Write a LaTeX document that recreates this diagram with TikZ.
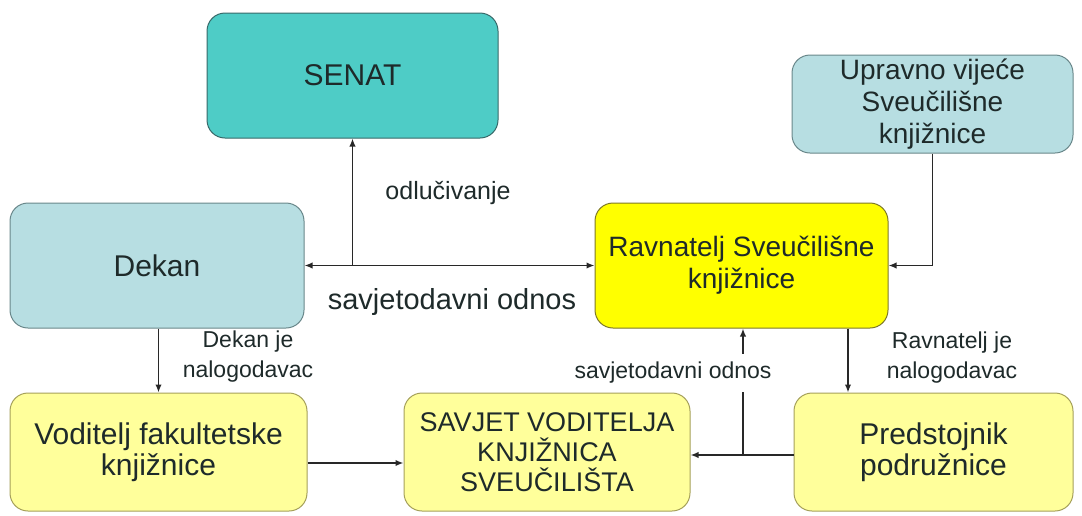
\documentclass[tikz,border=0pt]{standalone}
\usepackage{fontspec}
\setmainfont{Liberation Sans}
\usetikzlibrary{arrows.meta, positioning, calc}

\definecolor{senatfill}{RGB}{78,204,198}
\definecolor{senatline}{RGB}{55,105,105}
\definecolor{bluefill}{RGB}{183,222,226}
\definecolor{blueline}{RGB}{105,135,138}
\definecolor{yellowfill}{RGB}{255,255,0}
\definecolor{yellowline}{RGB}{125,120,40}
\definecolor{palefill}{RGB}{255,255,155}
\definecolor{paleline}{RGB}{165,160,90}
\definecolor{textdark}{RGB}{30,42,42}
\definecolor{linedark}{RGB}{40,40,40}

\begin{document}
\begin{tikzpicture}[x=1pt,y=-1pt,->,>={Latex[length=8pt,width=6.5pt]},
      line width=1.8pt, draw=linedark,
      box/.style={rectangle, rounded corners=18pt, draw, line width=1pt,
         align=center, inner sep=0pt, text=textdark},
      lbl/.style={align=center, inner sep=1pt, text=textdark}]
   \useasboundingbox (0,0) rectangle (1082,515);

   % upper row
   \node [box, fill=senatfill, draw=senatline, minimum width=291pt, minimum height=125pt,
      font=\fontsize{30}{32}\selectfont] at (352.5,75.5) (senat) {SENAT};
   \node [box, fill=bluefill, draw=blueline, minimum width=281pt, minimum height=98pt,
      font=\fontsize{28}{32}\selectfont] at (932.5,104) (upravno) {Upravno vijeće\\Sveučilišne\\knjižnice};

   % middle row
   \node [box, fill=bluefill, draw=blueline, minimum width=294pt, minimum height=125pt,
      font=\fontsize{30}{32}\selectfont] at (157,265.5) (dekan) {Dekan};
   \node [box, fill=yellowfill, draw=yellowline, minimum width=293pt, minimum height=125pt,
      font=\fontsize{28}{32}\selectfont] at (741.5,265.5) (ravnatelj) {Ravnatelj Sveučilišne\\knjižnice};

   % lower row
   \tikzstyle{lower} = [box, fill=palefill, draw=paleline, minimum height=118pt]
   \node [lower, minimum width=297pt, font=\fontsize{30}{31}\selectfont] at (158.5,452) (voditelj) {Voditelj fakultetske\\knjižnice};
   \node [lower, minimum width=286pt, font=\fontsize{27}{30}\selectfont] at (547,452) (savjet) {SAVJET VODITELJA\\KNJIŽNICA\\SVEUČILIŠTA};
   \node [lower, minimum width=279pt, font=\fontsize{30}{31}\selectfont] at (933.5,452) (predstojnik) {Predstojnik\\podružnice};

   % labels
   \node [lbl, font=\fontsize{25}{28}\selectfont] at (448,193) (odluc) {odlučivanje};
   \node [lbl, font=\fontsize{29}{32}\selectfont] at (452,302) (savodnos) {savjetodavni odnos};
   \node [lbl, font=\fontsize{23}{30}\selectfont] at (248,357) (dnalog) {Dekan je\\nalogodavac};
   \node [lbl, font=\fontsize{23}{30}\selectfont] at (952,358) (rnalog) {Ravnatelj je\\nalogodavac};

   % connectors
   \draw [<->] (dekan.east) -- (ravnatelj.west);
   \draw (senat.south |- dekan.east) -- (senat.south);
   \draw (upravno.south) |- (ravnatelj.east);
   \draw (voditelj.north |- dekan.south) -- (voditelj.north);
   \coordinate (rdown) at ($(ravnatelj.south)+(106.5,0)$);
   \draw (rdown) -- (rdown |- predstojnik.north);
   \draw ($(voditelj.east)+(0,11)$) -- ($(savjet.west)+(0,11)$);
   \coordinate (junc) at ($(ravnatelj.south |- savjet.east)+(1.5,3)$);
   \draw (predstojnik.west |- junc) -- (savjet.east |- junc);
   \draw (junc) -- node [pos=.65, xshift=-70pt, fill=white, inner xsep=1pt, inner ysep=8pt,
      text=textdark, font=\fontsize{23}{26}\selectfont] (savodnos2) {savjetodavni odnos}
      (junc |- ravnatelj.south);
\end{tikzpicture}
\end{document}
